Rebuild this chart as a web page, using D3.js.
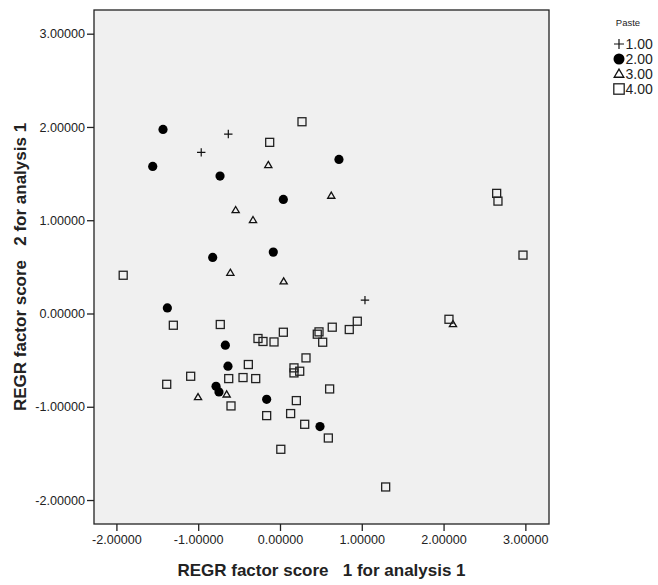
<!DOCTYPE html>
<html lang="en">
 <head>
  <meta charset="UTF-8">
  <title>Scatter</title>
  <style>
   body { margin: 0; background: #fff; }
   text { font-family: "Liberation Sans", Arial, sans-serif; }
  </style>
 </head>
 <body>
<svg width="658" height="585"></svg>
<script src="https://d3js.org/d3.v7.min.js"></script>
<script>

// Paste groups and their points (factor score 1, factor score 2)
var groups = ["1.00", "2.00", "3.00", "4.00"];

var paste1X = [-0.963, -0.632, 1.039];
var paste1Y = [1.727, 1.924, 0.143];

var paste2X = [-1.430, -1.556, -0.733, 0.041, -0.082, -0.823, 0.721, -1.377, -0.668, -0.636, -0.782, -0.746, -0.163, 0.489];
var paste2Y = [1.974, 1.577, 1.473, 1.223, 0.658, 0.601, 1.652, 0.060, -0.340, -0.565, -0.780, -0.841, -0.920, -1.212];

var paste3X = [-0.143, 0.627, -0.542, -0.330, -0.607, 0.045, -1.002, -0.652, 2.115];
var paste3Y = [1.591, 1.262, 1.108, 1.001, 0.436, 0.343, -0.898, -0.869, -0.115];

var paste4X = [0.269, -0.126, -1.917, 2.649, 2.665, 2.971, -1.304, -0.730, -0.269, -0.208, -0.073, -0.387, -0.627, -0.452, -0.297, -1.092, -1.385, -0.599, -0.163, 0.010,
               0.041, 0.477, 0.456, 0.522, 0.639, 0.847, 0.945, 0.318, 0.171, 0.171, 0.241, 0.607, 0.200, 0.130, 0.302, 0.591, 1.292, 2.066];
var paste4Y = [2.056, 1.835, 0.410, 1.288, 1.205, 0.626, -0.126, -0.118, -0.268, -0.300, -0.305, -0.547, -0.698, -0.687, -0.698, -0.673, -0.759, -0.991, -1.095, -1.456,
               -0.201, -0.197, -0.222, -0.308, -0.147, -0.172, -0.083, -0.476, -0.583, -0.637, -0.619, -0.809, -0.934, -1.073, -1.188, -1.335, -1.860, -0.062];

var xTicks = [-2, -1, 0, 1, 2, 3];
var yTicks = [-2, -1, 0, 1, 2, 3];

var series = [
  {g: groups[0], xs: paste1X, ys: paste1Y},
  {g: groups[1], xs: paste2X, ys: paste2Y},
  {g: groups[2], xs: paste3X, ys: paste3Y},
  {g: groups[3], xs: paste4X, ys: paste4Y}
];
var points = [];
series.forEach(function(s){
  s.xs.forEach(function(v, i){ points.push({g: s.g, x: v, y: s.ys[i]}); });
});

// plot box (don't call it "top", window.top is read only)
var pLeft = 94, pRight = 549, pTop = 10, pBottom = 524;

var x = d3.scaleLinear().domain([-2.274, 3.289]).range([pLeft, pRight]);
var y = d3.scaleLinear().domain([-2.257, 3.254]).range([pBottom, pTop]);

var svg = d3.select("svg");

// plot background + frame
svg.append("rect")
  .attr("x", pLeft).attr("y", pTop)
  .attr("width", pRight - pLeft).attr("height", pBottom - pTop)
  .attr("fill", "#f0f0f0").attr("stroke", "#222").attr("stroke-width", 1.3);

// plain hyphen instead of d3's unicode minus
var fmt = function(d){ return d.toFixed(5); };

var xAxis = svg.append("g")
  .attr("transform", "translate(0," + pBottom + ")")
  .call(d3.axisBottom(x).tickValues(xTicks).tickFormat(fmt).tickSize(7).tickPadding(4));
var yAxis = svg.append("g")
  .attr("transform", "translate(" + pLeft + ",0)")
  .call(d3.axisLeft(y).tickValues(yTicks).tickFormat(fmt).tickSize(7).tickPadding(2));

[xAxis, yAxis].forEach(function(a){
  a.select(".domain").remove();
  a.selectAll(".tick line").attr("stroke", "#222").attr("stroke-width", 1.3);
  a.selectAll(".tick text").attr("fill", "#222")
    .style("font-family", "'Liberation Sans', Arial, sans-serif").style("font-size", "12.6px");
});

// markers
function drawMarker(sel, g, s) {
  if (g === "1.00") {
    sel.append("path").attr("d", "M" + (-s) + ",0H" + s + "M0," + (-s) + "V" + s)
      .attr("stroke", "#111").attr("stroke-width", 1.2).attr("fill", "none");
  } else if (g === "2.00") {
    sel.append("circle").attr("r", s).attr("fill", "#000");
  } else if (g === "3.00") {
    var h = s * 1.7;
    sel.append("path").attr("d", "M0," + (-h * 0.6) + "L" + s + "," + (h * 0.4) + "L" + (-s) + "," + (h * 0.4) + "Z")
      .attr("fill", "none").attr("stroke", "#111").attr("stroke-width", 1.3);
  } else {
    sel.append("rect").attr("x", -s).attr("y", -s).attr("width", 2 * s).attr("height", 2 * s)
      .attr("fill", "none").attr("stroke", "#222").attr("stroke-width", 1.3);
  }
}

var sizes = {"1.00": 4.2, "2.00": 4.6, "3.00": 3.6, "4.00": 4.0};

svg.append("g").selectAll("g").data(points).enter().append("g")
  .attr("transform", function(d){ return "translate(" + x(d.x) + "," + y(d.y) + ")"; })
  .each(function(d){ drawMarker(d3.select(this), d.g, sizes[d.g]); });

// axis titles
svg.append("text")
  .attr("x", (pLeft + pRight) / 2).attr("y", 576)
  .attr("text-anchor", "middle")
  .style("font-size", "17px").style("font-weight", "bold").attr("fill", "#222")
  .attr("xml:space", "preserve")
  .text("REGR factor score   1 for analysis 1");

svg.append("text")
  .attr("transform", "translate(26," + ((pTop + pBottom) / 2) + ") rotate(-90)")
  .attr("text-anchor", "middle")
  .style("font-size", "17px").style("font-weight", "bold").attr("fill", "#222")
  .attr("xml:space", "preserve")
  .text("REGR factor score   2 for analysis 1");

// legend
var legend = svg.append("g");
legend.append("text").attr("x", 628).attr("y", 26).attr("text-anchor", "middle")
  .style("font-size", "9.5px").attr("fill", "#222").text("Paste");

var legY = [44, 59, 74, 89];
var legSize = {"1.00": 5, "2.00": 5.5, "3.00": 4.8, "4.00": 5.2};
groups.forEach(function(g, i){
  var item = legend.append("g").attr("transform", "translate(619," + legY[i] + ")");
  drawMarker(item, g, legSize[g]);
  item.append("text").attr("x", 6.5).attr("y", 5)
    .style("font-size", "14px").attr("fill", "#222").text(g);
});

</script>
 </body>
</html>
